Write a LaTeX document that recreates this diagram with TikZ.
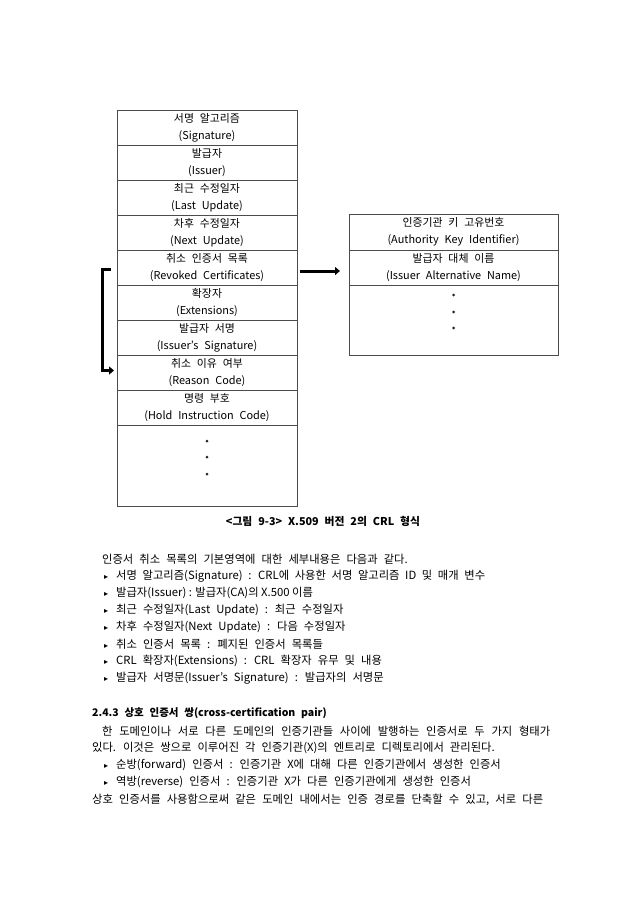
\documentclass[tikz,border=0pt]{standalone}
\usepackage{fontspec}
\setmainfont[WordSpace=2.4]{Noto Sans CJK KR}
\newfontfamily\symfont{DejaVu Sans}
\usetikzlibrary{arrows.meta, positioning}
\newcommand{\tri}{\makebox[12pt][l]{\symfont\fontsize{8}{8}\selectfont ▸}}
\tikzset{
  field/.style    = {rectangle, draw=black!70, line width=0.7pt, text=black,
                     minimum width=180pt, minimum height=35pt, inner sep=0pt,
                     outer sep=0pt, align=center,
                     font=\fontsize{10.9}{17}\selectfont},
  extfield/.style = {field, minimum width=209pt},
  dotmark/.style  = {circle, fill=black!85, inner sep=0pt, minimum size=3pt},
  flow/.style     = {-{Triangle[length=5pt,width=8pt]}, line width=3pt},
  body/.style     = {anchor=west, inner sep=0pt, text=black,
                     font=\fontsize{11.3}{12}\selectfont},
}
\begin{document}
\begin{tikzpicture}[x=1pt, y=-1pt]
  \useasboundingbox (0,0) rectangle (640,905);

  \node[field] (sig) at (207,127.5) {서명 알고리즘\\(Signature)};
  \node[field, below=0pt of sig] (issuer) {발급자\\(Issuer)};
  \node[field, below=0pt of issuer] (last) {최근 수정일자\\(Last Update)};
  \node[field, below=0pt of last] (next) {차후 수정일자\\(Next Update)};
  \node[field, below=0pt of next] (rev) {취소 인증서 목록\\(Revoked Certificates)};
  \node[field, below=0pt of rev] (ext) {확장자\\(Extensions)};
  \node[field, below=0pt of ext] (isig) {발급자 서명\\(Issuer's Signature)};
  \node[field, below=0pt of isig] (reason) {취소 이유 여부\\(Reason Code)};
  \node[field, below=0pt of reason] (hold) {명령 부호\\(Hold Instruction Code)};
  \node[field, minimum height=81pt, below=0pt of hold] (more) {};
  \node[dotmark] (d1) at ([yshift=-16pt]more.north) {};
  \node[dotmark] (d2) at ([yshift=-32pt]more.north) {};
  \node[dotmark] (d3) at ([yshift=-49pt]more.north) {};

  \node[extfield, minimum height=36pt] (akid) at (453.5,232) {인증기관 키 고유번호\\(Authority Key Identifier)};
  \node[extfield, below=0pt of akid] (ian) {발급자 대체 이름\\(Issuer Alternative Name)};
  \node[extfield, minimum height=70pt, below=0pt of ian] (emore) {};
  \node[dotmark] (e1) at ([yshift=-10pt]emore.north) {};
  \node[dotmark] (e2) at ([yshift=-27pt]emore.north) {};
  \node[dotmark] (e3) at ([yshift=-43pt]emore.north) {};

  \draw[flow] ([xshift=3pt,yshift=-3.5pt]rev.east) -- ([xshift=-9pt,yshift=-3.5pt]ian.west);
  \draw[flow] ([xshift=-6pt,yshift=-1.5pt]rev.west) -- ++(-9pt,0) |- ([xshift=-3pt,yshift=2pt]reason.west);

  \node[font=\bfseries\fontsize{10.8}{12}\selectfont, text=black] (caption) at (323,521) {<그림 9-3> X.509 버전 2의 CRL 형식};

  \node[body] (l1) at (102,559) {인증서 취소 목록의 기본영역에 대한 세부내용은 다음과 같다.};
  \node[body] (l2) at (104,576) {\tri\makebox[369pt][s]{서명 알고리즘(Signature) : CRL에 사용한 서명 알고리즘 ID 및 매개 변수}};
  \node[body] (l3) at (104,593) {\tri{\spaceskip=2.5pt plus 1pt 발급자(Issuer) : 발급자(CA)의 X.500 이름}};
  \node[body] (l4) at (104,610) {\tri 최근 수정일자(Last Update) : 최근 수정일자};
  \node[body] (l5) at (104,627) {\tri 차후 수정일자(Next Update) : 다음 수정일자};
  \node[body] (l6) at (104,644) {\tri 취소 인증서 목록 : 폐지된 인증서 목록들};
  \node[body] (l7) at (104,661) {\tri CRL 확장자(Extensions) : CRL 확장자 유무 및 내용};
  \node[body] (l8) at (104,678) {\tri 발급자 서명문(Issuer's Signature) : 발급자의 서명문};

  \node[body, font=\bfseries\fontsize{10.5}{12}\selectfont] (head) at (92,713) {2.4.3 상호 인증서 쌍(cross-certification pair)};
  \node[body] (p1) at (102,731) {\makebox[448pt][s]{한 도메인이나 서로 다른 도메인의 인증기관들 사이에 발행하는 인증서로 두 가지 형태가}};
  \node[body] (p2) at (92,748) {있다. 이것은 쌍으로 이루어진 각 인증기관(X)의 엔트리로 디렉토리에서 관리된다.};
  \node[body] (p3) at (104,765) {\tri 순방(forward) 인증서 : 인증기관 X에 대해 다른 인증기관에서 생성한 인증서};
  \node[body] (p4) at (104,782) {\tri 역방(reverse) 인증서 : 인증기관 X가 다른 인증기관에게 생성한 인증서};
  \node[body] (p5) at (92,800) {\makebox[451pt][s]{상호 인증서를 사용함으로써 같은 도메인 내에서는 인증 경로를 단축할 수 있고, 서로 다른}};
\end{tikzpicture}
\end{document}
